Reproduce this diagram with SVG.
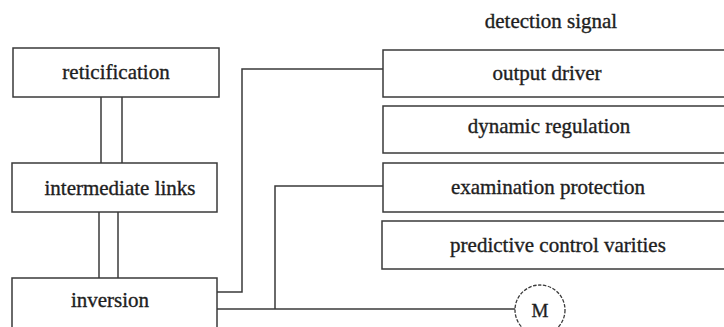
<svg xmlns="http://www.w3.org/2000/svg" width="724" height="327" viewBox="0 0 724 327">
  <style>
    .box { fill: #ffffff; stroke: #3a3a3a; stroke-width: 1.5; }
    .wire { fill: none; stroke: #3a3a3a; stroke-width: 1.5; }
    .lbl { font-family: 'Liberation Serif', 'DejaVu Serif', serif; font-size: 21px; fill: #1e1e1e; stroke: #1e1e1e; stroke-width: 0.35; text-anchor: middle; }
    .motor { fill: #ffffff; stroke: #3a3a3a; stroke-width: 1.3; stroke-dasharray: 3.5 1.5; }
  </style>
  <rect width="724" height="327" fill="#ffffff"/>

  <g id="connectors">
    <!-- double links down the left column -->
    <line class="wire" x1="101" y1="97" x2="101" y2="163"/>
    <line class="wire" x1="122" y1="97" x2="122" y2="163"/>
    <line class="wire" x1="99" y1="212" x2="99" y2="278"/>
    <line class="wire" x1="118" y1="212" x2="118" y2="278"/>
    <!-- inversion to output driver -->
    <polyline class="wire" points="217,292 242,292 242,69 383,69"/>
    <!-- inversion to motor, with branch to examination protection -->
    <line class="wire" x1="217" y1="309" x2="515" y2="309"/>
    <polyline class="wire" points="275,309 275,186 383,186"/>
  </g>

  <g id="reticification">
    <rect class="box" x="13" y="48" width="206" height="49"/>
    <text class="lbl" x="116" y="79">reticification</text>
  </g>
  <g id="intermediate-links">
    <rect class="box" x="12" y="163" width="205" height="49"/>
    <text class="lbl" x="120" y="195">intermediate links</text>
  </g>
  <g id="inversion">
    <rect class="box" x="12" y="278" width="205" height="70"/>
    <text class="lbl" x="110" y="307">inversion</text>
  </g>

  <g id="detection-signal">
    <text class="lbl" x="551" y="28">detection signal</text>
  </g>
  <g id="output-driver">
    <rect class="box" x="383" y="50" width="360" height="47"/>
    <text class="lbl" x="547" y="80">output driver</text>
  </g>
  <g id="dynamic-regulation">
    <rect class="box" x="383" y="106" width="360" height="47"/>
    <text class="lbl" x="549" y="133">dynamic regulation</text>
  </g>
  <g id="examination-protection">
    <rect class="box" x="383" y="163" width="360" height="49"/>
    <text class="lbl" x="548" y="194">examination protection</text>
  </g>
  <g id="predictive-control">
    <rect class="box" x="382" y="221" width="360" height="48"/>
    <text class="lbl" x="558" y="252">predictive control varities</text>
  </g>

  <g id="motor">
    <circle class="motor" cx="540" cy="310" r="25"/>
    <text class="lbl" x="540" y="317" style="font-size:19px">M</text>
  </g>
</svg>
